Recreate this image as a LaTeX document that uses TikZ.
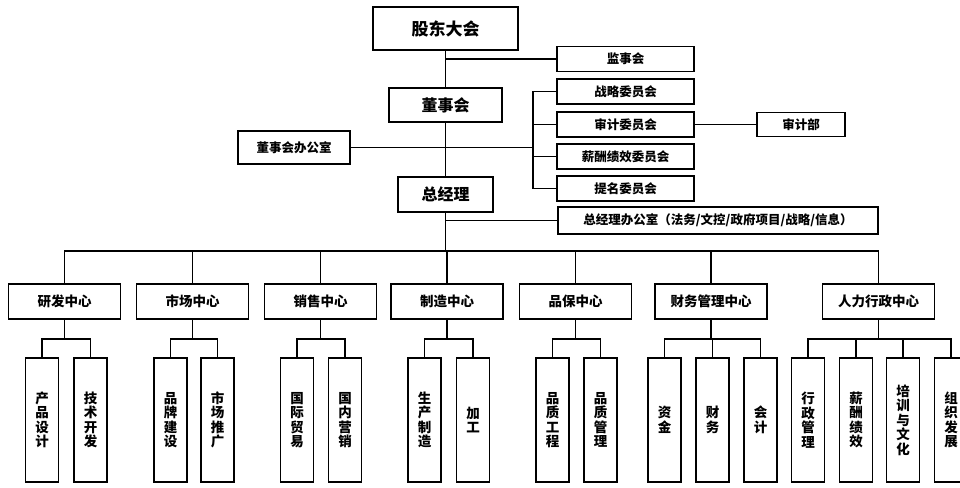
\documentclass[tikz,border=0pt]{standalone}
\usepackage{fontspec}
\newfontfamily\cjk{Noto Sans CJK SC}
\begin{document}
\begin{tikzpicture}[x=1pt,y=-1pt,
  box/.style={draw, line width=1.8pt, inner sep=0pt, align=center, font=\cjk\bfseries\fontsize{12.5}{14}\selectfont},
  ctr/.style={box, minimum width=112pt, minimum height=35pt, font=\cjk\bfseries\fontsize{13.5}{15}\selectfont},
  cmt/.style={box, minimum width=137pt, minimum height=25pt},
  vbox/.style={box, minimum width=33pt, minimum height=124pt, font=\cjk\bfseries\fontsize{13.5}{14.5}\selectfont},
  ln/.style={line width=1.8pt}]
\useasboundingbox (0,0) rectangle (960,487);
\fill[white] (0,0) rectangle (960,487);
\clip (0,0) rectangle (960,487);
% top levels
\node[box, minimum width=145pt, minimum height=43pt, font=\cjk\bfseries\fontsize{17}{19}\selectfont] (gd) at (445.5,28.5) {股东大会};
\node[box, minimum width=137pt, minimum height=25pt] (jsh) at (625.5,59) {监事会};
\node[box, minimum width=113pt, minimum height=34pt, font=\cjk\bfseries\fontsize{16}{18}\selectfont] (dsh) at (445.5,105) {董事会};
\node[box, minimum width=112pt, minimum height=33pt] (dbg) at (294,147.5) {董事会办公室};
\node[cmt] (zl) at (625.5,91.5) {战略委员会};
\node[cmt] (sj) at (625.5,124.5) {审计委员会};
\node[cmt] (xc) at (625.5,156.5) {薪酬绩效委员会};
\node[cmt] (tm) at (625.5,188.5) {提名委员会};
\node[box, minimum width=88pt, minimum height=24pt] (sjb) at (801,124.5) {审计部};
\node[box, minimum width=95pt, minimum height=35pt, font=\cjk\bfseries\fontsize{16}{18}\selectfont] (zjl) at (445.5,194.5) {总经理};
\node[box, minimum width=320pt, minimum height=27pt] (zb) at (718,220.5) {总经理办公室（法务/文控/政府项目/战略/信息）};
\coordinate (sp) at (533,150);
\coordinate (bus) at (445.5,251);
% connectors top
\draw[ln] (gd.south) -- (dsh.north);
\draw[ln] (dsh.south) -- (zjl.north);
\draw[ln] (jsh.west) -- (jsh.west -| gd.south);
\draw[ln] (dbg.east) -- (dbg.east -| sp);
\draw[ln] (zl.west) -- (zl.west -| sp) -- (tm.west -| sp) -- (tm.west);
\draw[ln] (sj.west) -- (sj.west -| sp);
\draw[ln] (xc.west) -- (xc.west -| sp);
\draw[ln] (sj.east) -- (sjb.west);
\draw[ln] (zb.west) -- (zb.west -| zjl.south);
% centers
\node[ctr] (yf) at (64.5,301.5) {研发中心};
\node[ctr] (sc) at (192.5,301.5) {市场中心};
\node[ctr] (xs) at (320.5,301.5) {销售中心};
\node[ctr] (zz) at (447,301.5) {制造中心};
\node[ctr] (pb) at (575.5,301.5) {品保中心};
\node[ctr] (cw) at (711,301.5) {财务管理中心};
\node[ctr] (rl) at (878.5,301.5) {人力行政中心};
\draw[ln] (zjl.south) -- (bus);
\draw[ln] (yf.north) |- (bus -| rl.north) -- (rl.north);
\foreach \c in {sc,xs,zz,pb,cw} \draw[ln] (\c.north) -- (\c.north |- bus);
% sub boxes
\node[vbox] (yf1) at (42,420) {产\\品\\设\\计};
\node[vbox] (yf2) at (90.5,420) {技\\术\\开\\发};
\node[vbox] (sc1) at (170.5,420) {品\\牌\\建\\设};
\node[vbox] (sc2) at (217.5,420) {市\\场\\推\\广};
\node[vbox] (xs1) at (297,420) {国\\际\\贸\\易};
\node[vbox] (xs2) at (345,420) {国\\内\\营\\销};
\node[vbox] (zz1) at (424.5,420) {生\\产\\制\\造};
\node[vbox] (zz2) at (473,420) {加\\工};
\node[vbox] (pb1) at (552.5,420) {品\\质\\工\\程};
\node[vbox] (pb2) at (600.5,420) {品\\质\\管\\理};
\node[vbox] (cw1) at (664.5,420) {资\\金};
\node[vbox] (cw2) at (712.5,420) {财\\务};
\node[vbox] (cw3) at (760.5,420) {会\\计};
\node[vbox] (rl1) at (808,420) {行\\政\\管\\理};
\node[vbox] (rl2) at (856,420) {薪\\酬\\绩\\效};
\node[vbox] (rl3) at (903,420) {培\\训\\与\\文\\化};
\node[vbox] (rl4) at (951,420) {组\\织\\发\\展};
\coordinate (sub) at (0,339);
\foreach \p/\a/\b in {yf/yf1/yf2, sc/sc1/sc2, xs/xs1/xs2, zz/zz1/zz2, pb/pb1/pb2, cw/cw1/cw3, rl/rl1/rl4} {
  \draw[ln] (\p.south) -- (\p.south |- sub);
  \draw[ln] (\a.north) -- (\a.north |- sub) -- (\b.north |- sub) -- (\b.north);
}
\draw[ln] (cw2.north) -- (cw2.north |- sub);
\draw[ln] (rl2.north) -- (rl2.north |- sub);
\draw[ln] (rl3.north) -- (rl3.north |- sub);
\end{tikzpicture}
\end{document}
